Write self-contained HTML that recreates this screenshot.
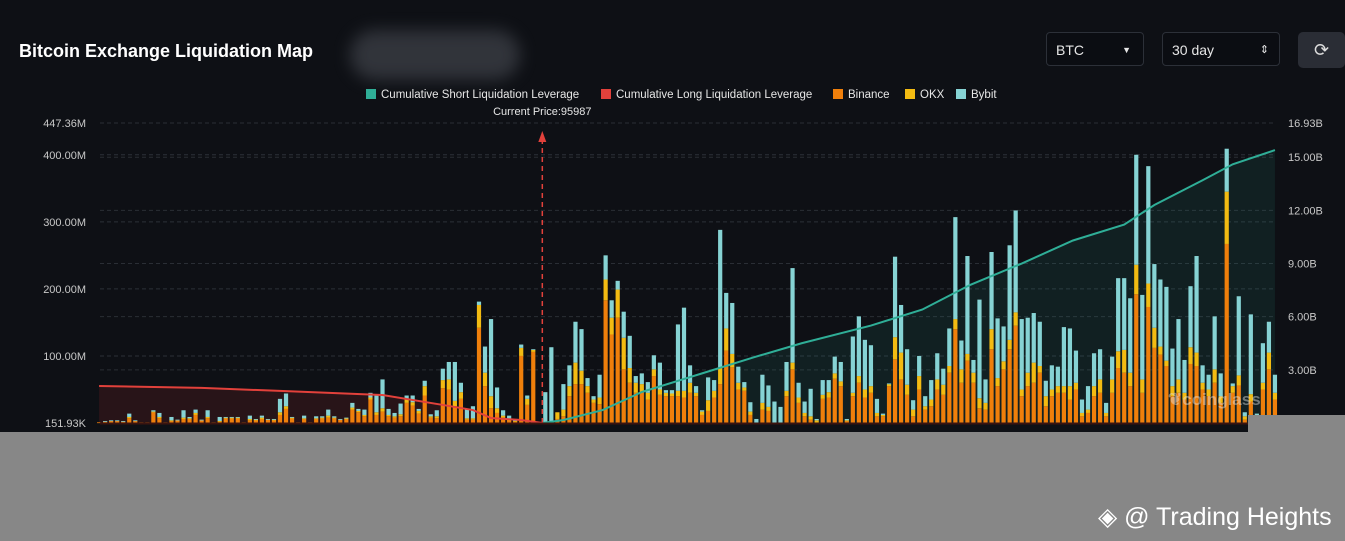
<!DOCTYPE html>
<html><head><meta charset="utf-8"><style>
body{margin:0;width:1345px;height:541px;background:#0e1015;overflow:hidden;font-family:"Liberation Sans",sans-serif;position:relative}
.title{position:absolute;left:19px;top:41px;color:#fff;font-weight:bold;font-size:18px}
.blob{position:absolute;left:350px;top:30px;width:170px;height:50px;border-radius:25px;background:#3a3d44;filter:blur(8px);opacity:.8}
.sel{position:absolute;top:32px;height:34px;border:1px solid #2c3038;border-radius:4px;background:#0b0d12;color:#e6e6e6;font-size:14px;line-height:34px;padding-left:9px;box-sizing:border-box}
.btn{position:absolute;left:1298px;top:32px;width:47px;height:36px;background:#2a2d35;border-radius:5px;color:#ddd;text-align:center;line-height:36px;font-size:18px}
.gray{position:absolute;background:#878787}
.wm{position:absolute;left:1098px;top:502px;color:#fff;font-size:25px}
</style></head><body>
<div class="title">Bitcoin Exchange Liquidation Map</div>
<div class="blob"></div>
<div class="sel" style="left:1046px;width:98px">BTC<span style="position:absolute;right:12px;font-size:9px">▼</span></div>
<div class="sel" style="left:1162px;width:118px">30 day<span style="position:absolute;right:10px;font-size:11px">⇕</span></div>
<div class="btn">⟳</div>
<svg id="chart" width="1345" height="541" style="position:absolute;left:0;top:0"></svg>
<div class="gray" style="left:0;top:432px;width:1345px;height:109px"></div>
<div class="gray" style="left:1248px;top:415px;width:97px;height:17px"></div>
<div class="wm">◈ @ Trading Heights</div>
<script>
const leftTicks=["151.93K","100.00M","200.00M","300.00M","400.00M","447.36M"];
const leftTickVals=[0,100,200,300,400,447.36];
const rightTicks=["3.00B","6.00B","9.00B","12.00B","15.00B","16.93B"];
const rightTickVals=[3,6,9,12,15,16.93];
const currentPriceIndex=73.5;
const binance=[1,2,3,3,2,7,3,1,1,16,7,1,3,4,6,6,12,4,7,1,2,7,7,7,1,4,4,6,5,4,12,21,7,1,6,1,6,7,8,7,5,6,20,16,10,35,12,17,10,8,10,30,26,14,41,8,7,52,50,25,36,5,5,142,55,22,15,8,4,2,100,27,106,1,
0,0,6,10,40,58,58,45,30,28,183,132,157,80,60,45,46,35,70,42,40,40,40,38,45,40,
12,18,38,58,108,83,50,48,12,0,20,18,0,0,40,80,30,10,5,0,36,38,66,55,3,40,60,38,45,10,10,55,95,65,42,10,50,20,25,50,42,75,140,60,93,60,22,20,110,55,80,110,145,40,55,60,75,25,40,45,45,35,50,10,15,40,45,10,45,82,75,55,192,45,173,112,102,85,40,45,35,88,85,50,40,60,30,267,45,56,5,32,2,50,80,35];
const okx=[0,0,0,0,0,2,0,0,0,1,2,0,1,0,2,1,3,0,2,0,1,1,1,1,0,2,1,2,0,1,4,4,1,0,1,0,1,1,3,1,0,1,3,2,2,3,4,5,2,2,3,5,5,4,14,2,3,12,15,8,10,2,2,34,20,18,7,3,1,1,12,9,3,0,
0,0,10,10,15,32,20,10,5,10,31,25,42,47,22,15,12,10,10,8,5,4,8,10,15,5,
5,16,10,25,33,20,10,5,5,0,10,6,0,0,8,10,8,5,5,4,6,8,8,7,1,5,10,12,10,5,2,3,33,40,15,10,20,5,10,15,15,10,15,20,10,15,15,10,30,12,12,14,20,10,20,30,10,15,10,10,10,20,10,5,5,15,20,5,20,25,34,20,44,20,35,30,12,8,15,20,10,25,20,10,10,20,10,78,10,15,5,11,2,10,25,10];
const bybit=[0,1,1,1,1,5,1,0,0,2,6,0,5,1,11,2,5,1,10,0,6,1,1,1,0,5,1,3,1,1,20,19,1,0,4,0,3,2,9,2,1,1,7,3,8,7,25,43,9,5,16,6,10,3,8,3,9,17,26,58,14,14,18,5,39,115,31,8,6,3,5,5,1,0,
46,113,0,38,31,61,62,12,5,34,36,26,13,39,48,10,16,16,21,40,4,5,99,124,26,10,
2,34,16,205,53,76,24,8,14,6,42,32,32,24,43,141,22,17,41,2,22,18,25,29,2,84,89,74,61,21,2,1,120,71,53,14,30,15,29,39,24,56,152,43,146,19,147,35,115,89,52,141,152,105,82,74,66,23,36,29,88,86,48,20,35,49,45,15,34,109,107,111,164,126,175,95,100,110,56,90,49,91,144,26,22,79,34,64,4,118,6,119,10,59,46,27];
const longIdx=[0,17,30,47,57,62,65,70,73.5];
const longCum=[2.09,1.98,1.81,1.58,1.02,0.73,0.28,0.17,0];
const shortIdx=[73.5,77,83.5,90,100,108.5,116.5,128,136.5,144.5,153,161.5,170,175,183,188,195];
const shortCum=[0,0.17,0.73,1.75,2.8,3.7,4.5,5.5,6.4,7.8,9.0,10.3,11.2,12.3,13.7,14.6,15.4];

const NS="http://www.w3.org/2000/svg";
const svg=document.getElementById('chart');
const X0=97,PITCH=6.03,BASE=423,TOP=123,XR=1276;
const yL=v=>BASE-v*(BASE-TOP)/447.36;
const yR=v=>BASE-v*(BASE-TOP)/16.93;
const xI=i=>X0+i*PITCH+2.1;
function mk(tag,attrs){const e=document.createElementNS(NS,tag);for(const k in attrs)e.setAttribute(k,attrs[k]);svg.appendChild(e);return e;}
for(let i=0;i<leftTickVals.length;i++){const y=yL(leftTickVals[i]);
 if(i>0){const g=mk('line',{x1:100,x2:XR,y1:y,y2:y,stroke:'#2c3038','stroke-dasharray':'4 3'});
 
 }
 const t=mk('text',{x:86,y:y+4,fill:'#c8c8c8','font-size':11,'text-anchor':'end'});t.textContent=leftTicks[i];
 
 }
for(let i=0;i<rightTickVals.length;i++){const y=yR(rightTickVals[i]);
 const g=mk('line',{x1:100,x2:XR,y1:y,y2:y,stroke:'#2a2e35','stroke-dasharray':'4 3'});
 
 
 const t=mk('text',{x:1288,y:y+4,fill:'#c8c8c8','font-size':11});t.textContent=rightTicks[i];
 
 }
function pts(idx,vals){return idx.map((v,i)=>xI(v)+','+yR(vals[i])).join(' ');}
const la=mk('polygon',{points:pts(longIdx,longCum)+' '+xI(currentPriceIndex)+','+BASE+' '+xI(0)+','+BASE,fill:'rgba(120,30,35,0.25)'});


const sa=mk('polygon',{points:pts(shortIdx,shortCum)+' '+xI(195)+','+BASE+' '+xI(currentPriceIndex)+','+BASE,fill:'rgba(40,150,130,0.12)'});


for(let i=0;i<binance.length;i++){
 const x=X0+i*PITCH;let acc=0;
 [[binance[i],'#ef7f0b'],[okx[i],'#f3bb12'],[bybit[i],'#86d3d4']].forEach(([v,c],k)=>{
  if(v<=0)return;const y1=yL(acc),y2=yL(acc+v);acc+=v;
  const r=mk('rect',{x:x,y:y2,width:4.2,height:Math.max(0.8,y1-y2),fill:c});
  
  
 });}
const ll=mk('polyline',{points:pts(longIdx,longCum),fill:'none',stroke:'#e2413b','stroke-width':2});


const sl=mk('polyline',{points:pts(shortIdx,shortCum),fill:'none',stroke:'#2fae97','stroke-width':2});


const cx=xI(currentPriceIndex);
const cl=mk('line',{x1:cx,x2:cx,y1:BASE,y2:140,stroke:'#e2413b','stroke-width':1.5,'stroke-dasharray':'5 4'});


const ca=mk('polygon',{points:`${cx-4},142 ${cx},131 ${cx+4},142`,fill:'#e2413b'});


const ct=mk('text',{x:cx,y:115,fill:'#e6e6e6','font-size':11,'text-anchor':'middle'});ct.textContent='Current Price:95987';


const bl=mk('line',{x1:100,x2:1248,y1:BASE+0.5,y2:BASE+0.5,stroke:'#3a1410','stroke-width':2});


const cg=mk('text',{x:1168,y:405,fill:'rgba(230,230,230,0.45)','font-size':17,'font-weight':'bold'});cg.textContent='❦coinglass';


const legend=[['Cumulative Short Liquidation Leverage','#2fae97',366],['Cumulative Long Liquidation Leverage','#e2413b',601],['Binance','#ef7f0b',833],['OKX','#f3bb12',905],['Bybit','#86d3d4',956]];
legend.forEach(([n,c,x])=>{
 const r=mk('rect',{x:x,y:89,width:10,height:10,fill:c});
 
 
 const t=mk('text',{x:x+15,y:98,fill:'#e6e6e6','font-size':11.5});t.textContent=n;
 
 
});
</script>
</body></html>
